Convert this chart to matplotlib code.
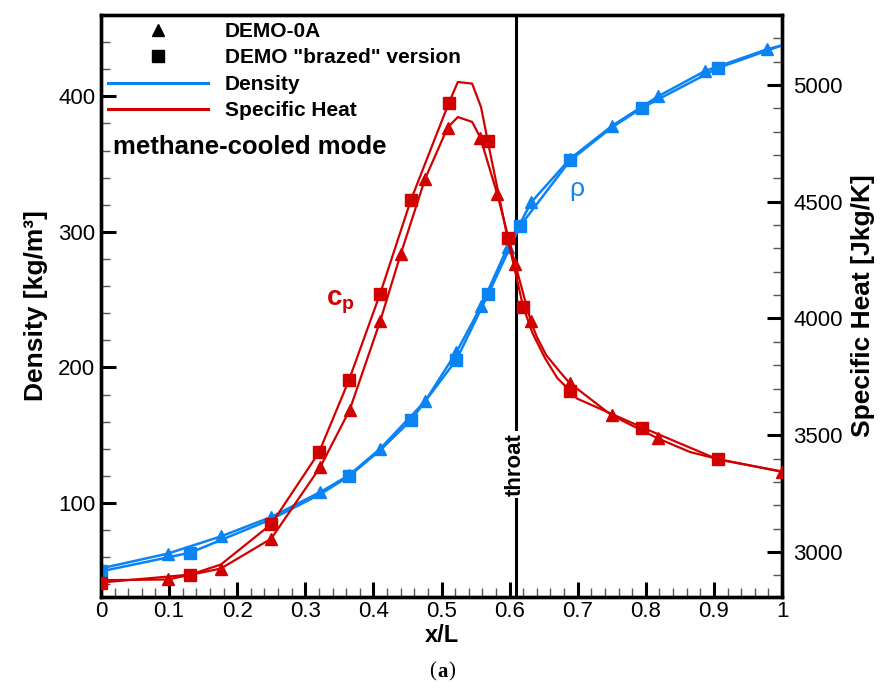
import matplotlib
matplotlib.use("Agg")
import matplotlib.pyplot as plt
from matplotlib.lines import Line2D
from matplotlib.ticker import MultipleLocator, FuncFormatter

plt.rcParams['font.family'] = ['Liberation Sans', 'DejaVu Sans']
plt.rcParams['mathtext.fontset'] = 'custom'
plt.rcParams['mathtext.rm'] = 'Liberation Sans'
plt.rcParams['mathtext.bf'] = 'Liberation Sans:bold'
plt.rcParams['mathtext.it'] = 'Liberation Sans:italic'

# ---- Density [kg/m^3], DEMO-0A (triangles) ----
rho_0a_x = [0.000, 0.098, 0.176, 0.250, 0.322, 0.364, 0.410, 0.476, 0.522,
            0.558, 0.597, 0.632, 0.689, 0.750, 0.818, 0.887, 0.978, 1.000]
rho_0a_y = [51.8, 62.7, 75.4, 89.7, 108.1, 120.5, 140.1, 175.2, 211.4,
            245.1, 288.8, 322.0, 354.0, 378.1, 400.0, 418.7, 434.7, 437.6]
rho_0a_mark = [1, 1, 1, 1, 1, 1, 1, 1, 1, 1, 1, 1, 1, 1, 1, 1, 1, 0]

# ---- Density, DEMO "brazed" version (squares) ----
rho_br_x = [0.000, 0.131, 0.250, 0.322, 0.364, 0.410, 0.455, 0.522, 0.569,
            0.615, 0.689, 0.750, 0.795, 0.906, 1.000]
rho_br_y = [49.6, 63.4, 88.0, 106.5, 119.7, 139.0, 161.0, 205.8, 254.5,
            304.1, 352.8, 377.0, 391.7, 420.9, 437.6]
rho_br_mark = [1, 1, 0, 0, 1, 0, 1, 1, 1, 1, 1, 0, 1, 1, 0]

# ---- Specific heat [J/kg/K], DEMO-0A (triangles) ----
cp_0a_x = [0.000, 0.098, 0.176, 0.250, 0.322, 0.365, 0.410, 0.440, 0.476,
           0.509, 0.524, 0.545, 0.557, 0.582, 0.608, 0.631, 0.640, 0.654,
           0.674, 0.688, 0.750, 0.818, 0.865, 0.906, 1.000]
cp_0a_y = [2879, 2882, 2929, 3057, 3364, 3607, 3989, 4275, 4599,
           4818, 4863, 4842, 4775, 4532, 4235, 3989, 3921, 3842,
           3771, 3724, 3585, 3486, 3428, 3398, 3343]
cp_0a_mark = [0, 1, 1, 1, 1, 1, 1, 1, 1,
              1, 0, 0, 1, 1, 1, 1, 0, 0,
              0, 1, 1, 1, 0, 0, 1]

# ---- Specific heat, DEMO "brazed" version (squares) ----
cp_br_x = [0.000, 0.131, 0.176, 0.250, 0.320, 0.364, 0.410, 0.455, 0.511,
           0.524, 0.545, 0.558, 0.568, 0.597, 0.620, 0.634, 0.652, 0.670,
           0.689, 0.699, 0.795, 0.906, 1.000]
cp_br_y = [2869, 2903, 2946, 3119, 3426, 3735, 4107, 4507, 4925,
           5013, 5006, 4906, 4759, 4345, 4049, 3935, 3830, 3745,
           3690, 3657, 3533, 3396, 3345]
cp_br_mark = [1, 1, 0, 1, 1, 1, 1, 1, 1,
              0, 0, 0, 1, 1, 1, 0, 0, 0,
              1, 0, 1, 1, 0]

x_throat = 0.6087

BLUE = '#0A84F5'
RED = '#D20000'


def marks(flags):
    return [i for i, f in enumerate(flags) if f]


fig = plt.figure(figsize=(8.82, 6.9), dpi=100)
ax = fig.add_axes([101 / 882, 1 - 597 / 690, 681 / 882, 582 / 690])
ax2 = ax.twinx()

# density curves on the left axis
ax.plot(rho_0a_x, rho_0a_y, color=BLUE, lw=1.8, marker='^', ms=9,
        markevery=marks(rho_0a_mark), zorder=3)
ax.plot(rho_br_x, rho_br_y, color=BLUE, lw=1.8, marker='s', ms=8.5,
        markevery=marks(rho_br_mark), zorder=3)

# specific heat curves on the right axis
ax2.plot(cp_0a_x, cp_0a_y, color=RED, lw=1.6, marker='^', ms=9,
         markevery=marks(cp_0a_mark), zorder=3)
ax2.plot(cp_br_x, cp_br_y, color=RED, lw=1.6, marker='s', ms=8.5,
         markevery=marks(cp_br_mark), zorder=3)

ax.set_xlim(0, 1)
ax.set_ylim(30.7, 460)
ax2.set_ylim(2807, 5300)

# throat marker
ax.axvline(x_throat, color='black', lw=2.2, zorder=2)
ax.text(x_throat, 128.6, 'throat', rotation=90, ha='center', va='center',
        fontsize=16, fontweight='bold', zorder=4,
        bbox=dict(fc='white', ec='none', pad=1.5))

# annotations
ax.text(0.0176, 363, 'methane-cooled mode', fontsize=18.5, fontweight='bold',
        ha='left', va='center', zorder=5)
ax.text(0.6985, 331.9, 'ρ', fontsize=19, color=BLUE, ha='center',
        va='center', zorder=5)
ax.text(0.351, 248, r'$\mathbf{c_p}$', fontsize=20, color=RED, ha='center',
        va='center', zorder=5)

# axes styling
for a in (ax, ax2):
    for s in a.spines.values():
        s.set_linewidth(2.4)

ax.xaxis.set_major_locator(MultipleLocator(0.1))
ax.xaxis.set_minor_locator(MultipleLocator(0.02))
ax.xaxis.set_major_formatter(FuncFormatter(lambda v, p: f"{round(v, 1):g}"))
ax.yaxis.set_major_locator(MultipleLocator(100))
ax.yaxis.set_minor_locator(MultipleLocator(20))
ax2.yaxis.set_major_locator(MultipleLocator(500))
ax2.yaxis.set_minor_locator(MultipleLocator(100))

ax.tick_params(axis='both', which='major', direction='in', length=11,
               width=2.2, labelsize=16, top=False, right=False)
ax.tick_params(axis='both', which='minor', direction='in', length=6.5,
               width=1.0, color='#555555', top=False, right=False)
ax.tick_params(axis='x', which='major', pad=3)
ax.tick_params(axis='y', which='major', pad=4)
ax2.tick_params(axis='y', which='major', direction='in', length=11,
                width=2.2, labelsize=16, pad=8)
ax2.tick_params(axis='y', which='minor', direction='in', length=6.5,
                width=1.0, color='#555555')

ax.set_xlabel('x/L', fontsize=17, fontweight='bold', labelpad=1)
ax.set_ylabel('Density [kg/m³]', fontsize=19, fontweight='bold', labelpad=7)
ax2.set_ylabel('Specific Heat [Jkg/K]', fontsize=19, fontweight='bold',
               labelpad=6)

# legend
handles = [
    Line2D([], [], ls='none', marker='^', color='black', ms=9),
    Line2D([], [], ls='none', marker='s', color='black', ms=8),
    Line2D([], [], color=BLUE, lw=2.2),
    Line2D([], [], color=RED, lw=2.2),
]
labels = ['DEMO-0A', 'DEMO "brazed" version', 'Density', 'Specific Heat']
leg = ax2.legend(handles, labels, loc='upper left',
                 bbox_to_anchor=(0.0103, 0.988), frameon=False,
                 borderaxespad=0, borderpad=0, handlelength=4.8,
                 handletextpad=0.8, labelspacing=0.36,
                 prop={'family': 'Liberation Sans', 'weight': 'bold',
                       'size': 15})
leg.set_zorder(6)

# panel caption "(a)" with a bold letter
yc = 1 - 672 / 690
fig.text(436 / 882, yc, '(', fontsize=15, family='Liberation Serif',
         ha='right', va='center')
fig.text(437 / 882, yc, 'a', fontsize=15, fontweight='bold',
         family='Liberation Serif', ha='left', va='center')
fig.text(448 / 882, yc, ')', fontsize=15, family='Liberation Serif',
         ha='left', va='center')

fig.savefig('out.png', dpi=100)
